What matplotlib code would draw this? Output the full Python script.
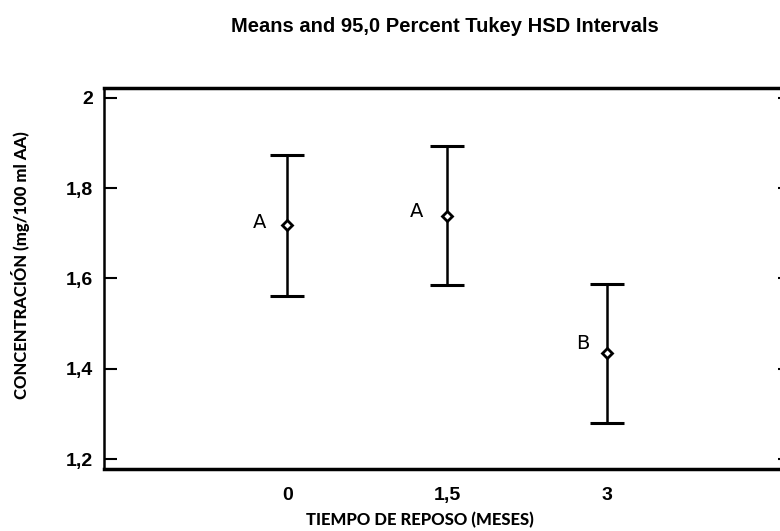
import matplotlib
matplotlib.use("Agg")
import matplotlib.pyplot as plt

categories = ["0", "1,5", "3"]
means = [1.719, 1.739, 1.435]
upper = [1.874, 1.894, 1.588]
lower = [1.561, 1.586, 1.280]
groups = ["A", "A", "B"]
yticks = [1.2, 1.4, 1.6, 1.8, 2.0]
ytick_labels = ["1,2", "1,4", "1,6", "1,8", "2"]

fig = plt.figure(figsize=(7.8, 5.31), dpi=100)
ax = fig.add_axes([0.1333, 0.1168, 0.8795, 0.7175])

x = list(range(len(categories)))
yerr = [[m - l for m, l in zip(means, lower)], [u - m for m, u in zip(means, upper)]]
ax.errorbar(x, means, yerr=yerr, fmt="none", ecolor="black", elinewidth=1.8,
            capsize=12, capthick=2.2)
ax.plot(x, means, linestyle="none", marker="D", markersize=5,
        markerfacecolor="white", markeredgecolor="black", markeredgewidth=2)

xoff = [-0.176, -0.19, -0.15]
yoff = [0.004, 0.009, 0.02]
for xi, m, g, dx, dy in zip(x, means, groups, xoff, yoff):
    ax.text(xi + dx, m + dy, g, ha="center", va="center", fontsize=14,
            family="DejaVu Sans")

ax.set_xlim(-1.15, 3.15)
ax.set_ylim(1.178, 2.022)
ax.set_xticks(x)
ax.set_xticklabels(categories, fontsize=14, fontweight="bold", family="Liberation Sans")
ax.set_yticks(yticks)
ax.set_yticklabels(ytick_labels, fontsize=14, fontweight="bold", family="Liberation Sans")
ax.tick_params(axis="x", length=0, pad=13)
ax.tick_params(axis="y", direction="in", length=9, width=1.5, right=True, pad=8)

for s in ["top", "bottom"]:
    ax.spines[s].set_linewidth(2.5)
for s in ["left", "right"]:
    ax.spines[s].set_linewidth(1.8)

fig.text(420 / 780, 1 - 520 / 531, "TIEMPO DE REPOSO (MESES)", ha="center",
         va="center", fontsize=12, fontweight="black", family="Lato")
fig.text(21 / 780, 1 - 265 / 531, "CONCENTRACIÓN (mg/100 ml AA)", ha="center",
         va="center", rotation=90, fontsize=12, fontweight="black", family="Lato")
fig.text(445 / 780, 1 - 27 / 531, "Means and 95,0 Percent Tukey HSD Intervals", ha="center",
         va="center", fontsize=14.5, fontweight="bold", family="Liberation Sans")

fig.savefig("out.png", dpi=100)
